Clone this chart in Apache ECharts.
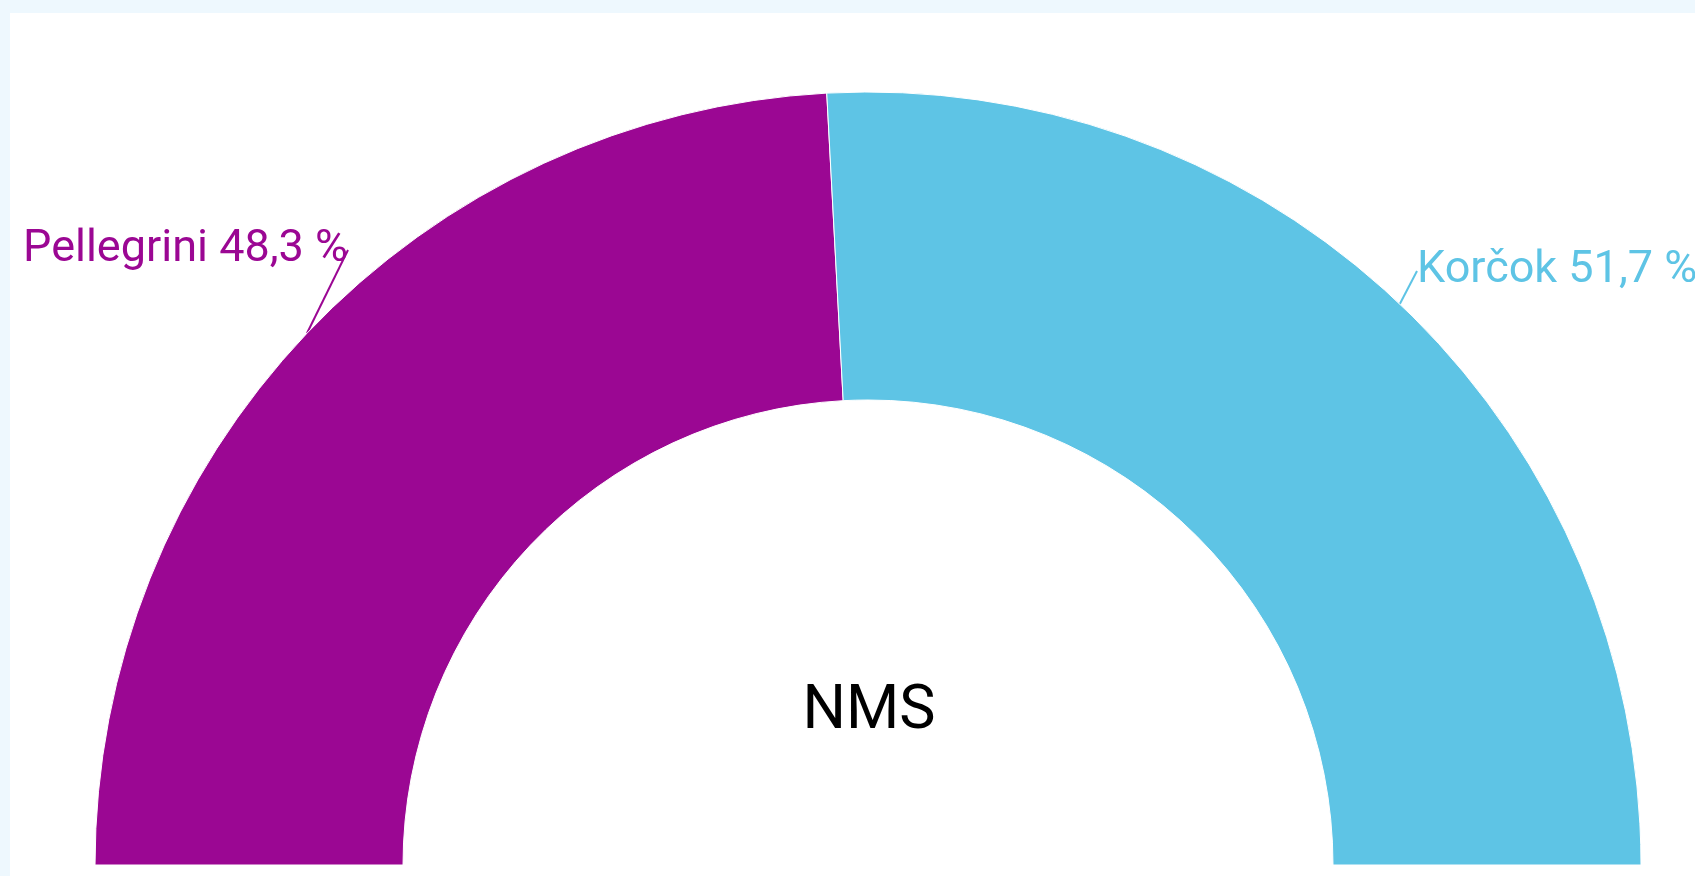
<!DOCTYPE html>
<html>
<head>
<meta charset="utf-8">
<script src="https://cdn.jsdelivr.net/npm/echarts@6/dist/echarts.min.js"></script>
<style>
  html, body { margin: 0; padding: 0; background: #eef8fe; }
  #main { position: absolute; left: 10px; top: 13px; width: 1685px; height: 863px; background: #fff; }
</style>
</head>
<body>
<div id="main"></div>
<script>
// data
var candidates = ['Pellegrini', 'Korčok'];
var shares = [48.3, 51.7];
var colors = ['#9b0793', '#5ec4e5'];
var centerText = 'NMS';

var chart = echarts.init(document.getElementById('main'));

// label spots (left one is right-aligned, right one left-aligned)
var labelSpots = [
  { x: 338, y: 237, align: 'right', tail: 14 },
  { x: 1407, y: 258, align: 'left', tail: 0 }
];

var option = {
  title: {
    text: centerText,
    left: 854,
    textAlign: 'center',
    top: 664,
    textStyle: { fontFamily: 'Roboto', fontSize: 61, fontWeight: 'normal', color: '#000' }
  },
  series: [
    {
      type: 'pie',
      center: [858, 852],
      radius: [465, 773],
      startAngle: 180,
      endAngle: 0,
      clockwise: true,
      silent: true,
      itemStyle: { borderColor: '#fff', borderWidth: 1 },
      label: {
        show: true,
        fontFamily: 'Roboto',
        fontSize: 45,
        overflow: 'none',
        formatter: function (p) {
          return p.name + ' ' + p.value.toFixed(1).replace('.', ',') + ' %';
        }
      },
      labelLine: { show: true, length: 20, lineStyle: { width: 2 } },
      labelLayout: function (params) {
        var s = labelSpots[params.dataIndex];
        return { x: s.x, y: s.y, align: s.align, verticalAlign: 'middle' };
      },
      data: candidates.map(function (name, i) {
        return {
          name: name,
          value: shares[i],
          itemStyle: { color: colors[i] },
          label: { color: colors[i] },
          labelLine: { length2: labelSpots[i].tail, lineStyle: { color: colors[i] } }
        };
      })
    }
  ]
};

chart.setOption(option);
</script>
</body>
</html>
